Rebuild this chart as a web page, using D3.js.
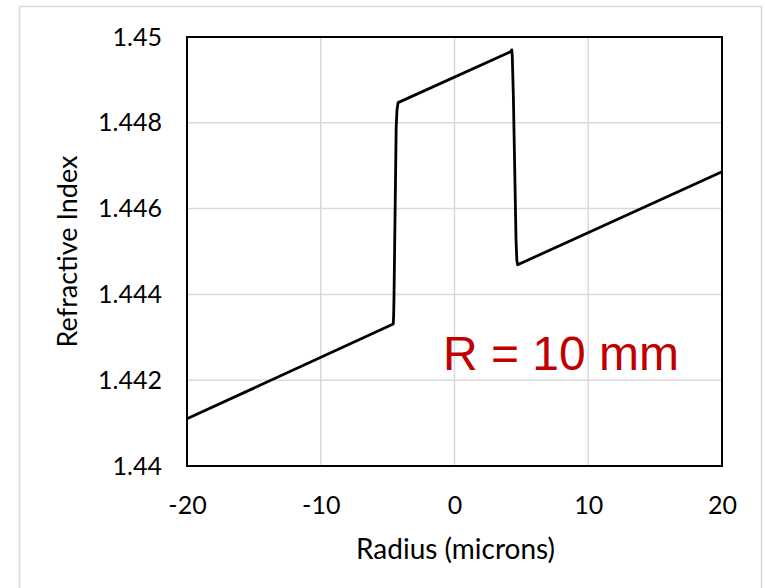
<!DOCTYPE html>
<html><head><meta charset="utf-8">
<script src="https://cdn.jsdelivr.net/npm/d3@7"></script>
<style>body{margin:0;background:#fff}</style>
</head><body>
<svg id="c" width="765" height="588"></svg>
<script>
const radius = [-20, -4.58, -4.55, -4.52, -4.36, -4.30, -4.22, 4.22, 4.28, 4.32, 4.40, 4.60, 4.66, 4.72, 20];
const index  = [1.44110, 1.44331, 1.44350, 1.44400, 1.44790, 1.44830, 1.44847, 1.44966, 1.44970, 1.44955, 1.44865, 1.44527, 1.44480, 1.44469, 1.44686];
const xTicks = [-20, -10, 0, 10, 20];
const yTicks = [1.44, 1.442, 1.444, 1.446, 1.448, 1.45];
const xTickLabels = ["-20", "-10", "0", "10", "20"];
const yTickLabels = ["1.44", "1.442", "1.444", "1.446", "1.448", "1.45"];
const xTitle = "Radius (microns)";
const yTitle = "Refractive Index";
const note = "R = 10 mm";

const svg = d3.select("#c");
const L = 187, R = 722, T = 37, B = 466;
const x = d3.scaleLinear().domain([-20, 20]).range([L, R]);
const y = d3.scaleLinear().domain([1.44, 1.45]).range([B, T]);
const font = "Lato, 'Open Sans', sans-serif";

// outer chart border
svg.append("path").attr("d", `M19.5,590 V6.5 H761.5 V590`).attr("fill", "none")
  .attr("stroke", "#d9d9d9").attr("stroke-width", 1.5);

// gridlines
svg.append("g").selectAll("line").data(yTicks.slice(1, -1)).join("line")
  .attr("x1", L).attr("x2", R).attr("y1", d => y(d)).attr("y2", d => y(d))
  .attr("stroke", "#d9d9d9").attr("stroke-width", 1.5);
svg.append("g").selectAll("line").data(xTicks.slice(1, -1)).join("line")
  .attr("y1", T).attr("y2", B).attr("x1", d => x(d)).attr("x2", d => x(d))
  .attr("stroke", "#d9d9d9").attr("stroke-width", 1.5);

// axes via d3 axis (labels only)
const xAxis = svg.append("g").attr("transform", `translate(0,${B})`)
  .call(d3.axisBottom(x).tickValues(xTicks).tickFormat((d, i) => xTickLabels[i]).tickSize(0).tickPadding(40));
const yAxis = svg.append("g").attr("transform", `translate(${L},0)`)
  .call(d3.axisLeft(y).tickValues(yTicks).tickFormat((d, i) => yTickLabels[i]).tickSize(0).tickPadding(25));
[xAxis, yAxis].forEach(a => {
  a.select(".domain").remove();
  a.selectAll("text").attr("font-family", font).attr("font-size", 25).attr("fill", "#000");
});
xAxis.selectAll("text").attr("dy", "0.3em");

// plot border
svg.append("rect").attr("x", L).attr("y", T).attr("width", R - L).attr("height", B - T)
  .attr("fill", "none").attr("stroke", "#000").attr("stroke-width", 2);

// data line
const pts = radius.map((r, i) => [r, index[i]]);
svg.append("path").datum(pts)
  .attr("d", d3.line().x(d => x(d[0])).y(d => y(d[1])).curve(d3.curveLinear))
  .attr("fill", "none").attr("stroke", "#000").attr("stroke-width", 2.8)
  .attr("stroke-linejoin", "round");

// titles
svg.append("text").attr("x", (L + R) / 2 + 1).attr("y", 559).attr("text-anchor", "middle")
  .attr("font-family", font).attr("font-size", 28).text(xTitle);
svg.append("text").attr("transform", `translate(77,${(T + B) / 2}) rotate(-90)`).attr("text-anchor", "middle")
  .attr("font-family", font).attr("font-size", 27).text(yTitle);

// annotation
svg.append("text").attr("x", 443).attr("y", 370).attr("font-family", "'Liberation Sans', Arial, sans-serif")
  .attr("font-size", 48).attr("fill", "#c00000").text(note);
</script>
</body></html>
